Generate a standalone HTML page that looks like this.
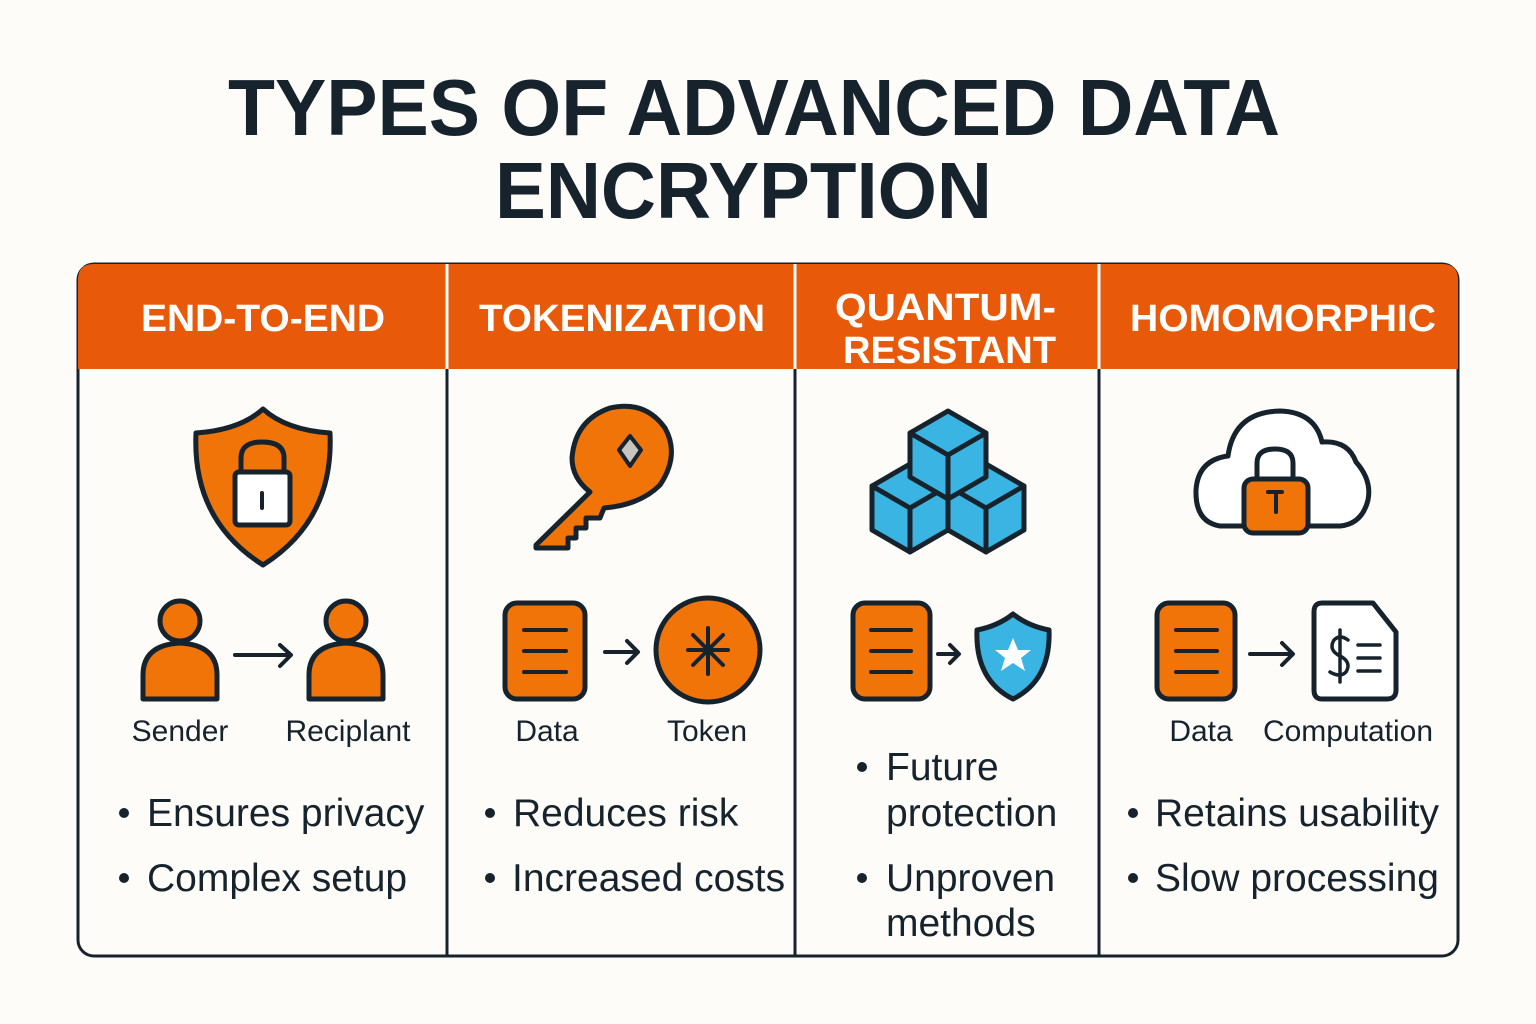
<!DOCTYPE html>
<html><head><meta charset="utf-8"><style>
html,body{margin:0;padding:0;background:#FDFCF8;}
svg{display:block;}
text{font-family:"Liberation Sans",sans-serif;}
</style></head><body>
<svg width="1536" height="1024" viewBox="0 0 1536 1024" xmlns="http://www.w3.org/2000/svg">
<rect width="1536" height="1024" fill="#FDFCF8"/>
<g fill="#16232D" font-weight="bold" font-size="80">
<text x="228" y="135" textLength="1052" lengthAdjust="spacingAndGlyphs">TYPES OF ADVANCED DATA</text>
<text x="495" y="218" textLength="497" lengthAdjust="spacingAndGlyphs">ENCRYPTION</text>
</g>
<rect x="78" y="264" width="1380" height="692" rx="16" fill="#FDFCF8" stroke="#16232D" stroke-width="3"/>
<path d="M78 369 V280 Q78 264 94 264 H1442 Q1458 264 1458 280 V369 Z" fill="#E85A0A"/>
<g stroke="#FDFCF8" stroke-width="3"><line x1="447" y1="264" x2="447" y2="369"/><line x1="795" y1="264" x2="795" y2="369"/><line x1="1099" y1="264" x2="1099" y2="369"/></g>
<g stroke="#16232D" stroke-width="3"><line x1="447" y1="369" x2="447" y2="956"/><line x1="795" y1="369" x2="795" y2="956"/><line x1="1099" y1="369" x2="1099" y2="956"/></g>
<g fill="#fff" font-weight="bold" font-size="38">
<text x="141" y="331" textLength="244" lengthAdjust="spacingAndGlyphs">END-TO-END</text>
<text x="479" y="331" textLength="286" lengthAdjust="spacingAndGlyphs">TOKENIZATION</text>
<text x="835" y="320" textLength="221" lengthAdjust="spacingAndGlyphs">QUANTUM-</text>
<text x="843" y="363" textLength="213" lengthAdjust="spacingAndGlyphs">RESISTANT</text>
<text x="1130" y="331" textLength="306" lengthAdjust="spacingAndGlyphs">HOMOMORPHIC</text>
</g>
<g stroke="#16232D" stroke-width="5" stroke-linejoin="round" stroke-linecap="round">
<path d="M263 409 Q240 430 196 433 Q192 520 263 565 Q334 520 330 433 Q286 430 263 409 Z" fill="#F07408"/>
<path d="M241 472 V458 Q241 442 262 442 Q284 442 284 458 V472" fill="none"/>
<rect x="235" y="472" width="55" height="53" rx="4" fill="#fff"/>
<path d="M262 493 V508" stroke-width="4"/>
<circle cx="180" cy="621" r="20" fill="#F07408"/>
<path d="M143 699 V675 Q143 645 180 643 Q217 645 217 675 V699 Z" fill="#F07408"/>
<circle cx="346" cy="621" r="20" fill="#F07408"/>
<path d="M309 699 V675 Q309 645 346 643 Q383 645 383 675 V699 Z" fill="#F07408"/>
<path d="M235 655 H290 M280 645 L291 655 L280 666" fill="none" stroke-width="4"/>
<path d="M590 492 L536 545 V548 H568 V538 L576 538 V528 L586 528 V518 L600 518 L604 508 Q640 505 660 485 Q680 455 665 428 Q645 400 610 408 Q575 420 572 458 Q572 478 590 492 Z" fill="#F07408"/>
<path d="M630 436 L641 450 L630 466 L619 450 Z" fill="#C8C4BF" stroke-width="4"/>
<rect x="505" y="603" width="80" height="96" rx="12" fill="#F07408"/>
<path d="M524 630 H566 M524 651 H566 M524 672 H566" stroke-width="4"/>
<path d="M605 652 H637 M627 641 L638 652 L627 663" fill="none" stroke-width="4"/>
<circle cx="708" cy="650" r="52" fill="#F07408"/>
<path d="M708 628 V674 M688 650 H728 M693 635 L723 665 M723 635 L693 665" stroke-width="4"/>
<g fill="#3AB5E3">
<path d="M910 464 L948 486 V530 L910 552 L872 530 V486 Z"/>
<path d="M872 486 L910 508 L948 486 M910 508 V552" fill="none"/>
<path d="M986 464 L1024 486 V530 L986 552 L948 530 V486 Z"/>
<path d="M948 486 L986 508 L1024 486 M986 508 V552" fill="none"/>
<path d="M948 411 L986 433 V477 L948 499 L910 477 V433 Z"/>
<path d="M910 433 L948 455 L986 433 M948 455 V499" fill="none"/>
</g>
<rect x="853" y="603" width="77" height="96" rx="12" fill="#F07408"/>
<path d="M871 630 H911 M871 651 H911 M871 672 H911" stroke-width="4"/>
<path d="M938 654 H958 M950 645 L959 654 L950 663" fill="none" stroke-width="4"/>
<path d="M1013 614 Q998 626 977 630 Q975 680 1013 699 Q1051 680 1049 630 Q1028 626 1013 614 Z" fill="#3AB5E3"/>
<path d="M1013 638 L1018 650 L1031 650 L1021 658 L1025 671 L1013 663 L1001 671 L1005 658 L995 650 L1008 650 Z" fill="#fff" stroke="none"/>
<path d="M1243 526 H1220 Q1195 522 1196 490 Q1198 460 1228 456 Q1234 412 1280 411 Q1315 412 1322 442 Q1348 440 1356 462 Q1372 480 1368 500 Q1362 524 1340 526 H1308" fill="#fff"/>
<path d="M1257 480 V463 Q1257 449 1275 449 Q1293 449 1293 463 V480" fill="none"/>
<rect x="1244" y="479" width="64" height="54" rx="9" fill="#F07408"/>
<path d="M1268 492 H1282 M1276 492 V512" stroke-width="4"/>
<rect x="1157" y="603" width="78" height="96" rx="12" fill="#F07408"/>
<path d="M1176 630 H1217 M1176 651 H1217 M1176 672 H1217" stroke-width="4"/>
<path d="M1250 654 H1292 M1282 643 L1293 654 L1282 665" fill="none" stroke-width="4"/>
<path d="M1322 603 H1373 L1396 632 V690 Q1396 699 1387 699 H1322 Q1314 699 1314 690 V612 Q1314 603 1322 603 Z" fill="#fff"/>
<path d="M1348 640 Q1340 634 1334 640 Q1328 650 1340 656 Q1352 662 1346 672 Q1340 678 1330 672 M1340 630 V682 M1358 645 H1380 M1358 658 H1380 M1358 671 H1380" fill="none" stroke-width="3.5"/>
</g>
<g fill="#16232D" font-size="30" text-anchor="middle">
<text x="180" y="741">Sender</text><text x="348" y="741">Reciplant</text>
<text x="547" y="741">Data</text><text x="707" y="741">Token</text>
<text x="1201" y="741">Data</text><text x="1348" y="741">Computation</text>
</g>
<g fill="#16232D" font-size="39">
<circle cx="124" cy="813" r="5"/><text x="147" y="826">Ensures privacy</text>
<circle cx="124" cy="878" r="5"/><text x="147" y="891">Complex setup</text>
<circle cx="490" cy="813" r="5"/><text x="513" y="826">Reduces risk</text>
<circle cx="490" cy="878" r="5"/><text x="512" y="891">Increased costs</text>
<circle cx="862" cy="767" r="5"/><text x="886" y="780">Future</text>
<text x="886" y="826">protection</text>
<circle cx="862" cy="878" r="5"/><text x="886" y="891">Unproven</text>
<text x="886" y="936">methods</text>
<circle cx="1133" cy="813" r="5"/><text x="1155" y="826">Retains usability</text>
<circle cx="1133" cy="878" r="5"/><text x="1155" y="891">Slow processing</text>
</g>
</svg>
</body></html>
